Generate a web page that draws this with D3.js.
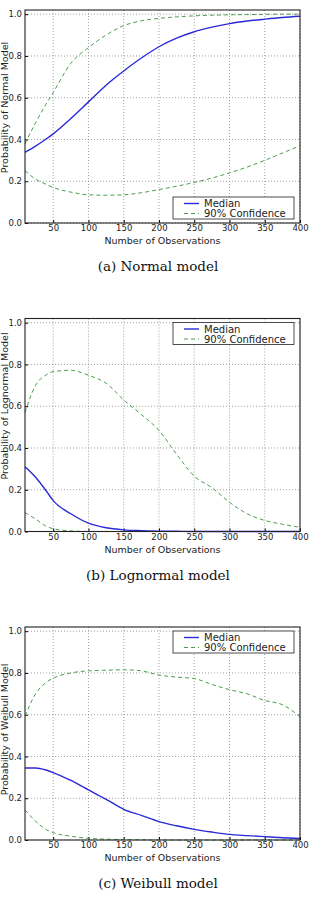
<!DOCTYPE html>
<meta charset="utf-8">
<style>
body { margin: 0; background: #fff; }
.tick text { font: 8.5px "DejaVu Sans", sans-serif; fill: #222; }
.grid line { stroke: #888; stroke-dasharray: 1,2; stroke-width: 0.8px; }
.median { fill: none; stroke: #2a2ad6; stroke-width: 1.4px; }
.conf { fill: none; stroke: #4c9e4c; stroke-width: 1px; stroke-dasharray: 4,3; }
.cap { font: 13.5px "DejaVu Serif", serif; fill: #111; }
.lab { font: 9.5px "DejaVu Sans", sans-serif; fill: #222; }
</style>
<body>
<svg width="315" height="901"></svg>
<script src="https://cdn.jsdelivr.net/npm/d3@7"></script>
<script>
var xs = [10, 25, 40, 50, 75, 100, 125, 150, 175, 200, 225, 250, 275, 300, 325, 350, 375, 400];

// (a) normal model
var normalMedian = [0.338, 0.368, 0.402, 0.427, 0.50, 0.58, 0.66, 0.728, 0.79, 0.844, 0.885, 0.916, 0.938, 0.955, 0.967, 0.976, 0.984, 0.99];
var normalUpper  = [0.38, 0.48, 0.57, 0.625, 0.765, 0.84, 0.90, 0.945, 0.968, 0.98, 0.987, 0.992, 0.995, 0.997, 0.998, 0.999, 1.0, 1.0];
var normalLower  = [0.25, 0.21, 0.185, 0.17, 0.148, 0.135, 0.133, 0.135, 0.145, 0.16, 0.176, 0.194, 0.215, 0.24, 0.268, 0.30, 0.335, 0.37];

// (b) lognormal model
var lognMedian = [0.31, 0.26, 0.195, 0.148, 0.085, 0.04, 0.018, 0.008, 0.004, 0.002, 0.001, 0, 0, 0, 0, 0, 0, 0];
var lognUpper  = [0.57, 0.70, 0.75, 0.766, 0.772, 0.748, 0.71, 0.63, 0.56, 0.484, 0.37, 0.265, 0.21, 0.14, 0.085, 0.053, 0.035, 0.02];
var lognLower  = [0.09, 0.06, 0.025, 0.013, 0.003, 0, 0, 0, 0, 0, 0, 0, 0, 0, 0, 0, 0, 0];

// (c) weibull model
var weibMedian = [0.345, 0.345, 0.335, 0.323, 0.285, 0.24, 0.195, 0.147, 0.118, 0.088, 0.068, 0.051, 0.038, 0.027, 0.021, 0.016, 0.011, 0.007];
var weibUpper  = [0.594, 0.70, 0.755, 0.775, 0.80, 0.81, 0.813, 0.815, 0.81, 0.79, 0.78, 0.773, 0.745, 0.72, 0.70, 0.668, 0.648, 0.59];
var weibLower  = [0.144, 0.09, 0.05, 0.035, 0.018, 0.008, 0.004, 0.002, 0.001, 0, 0, 0, 0, 0, 0, 0, 0, 0];

var xTicks = [50, 100, 150, 200, 250, 300, 350, 400];
var yTicks = [0, 0.2, 0.4, 0.6, 0.8, 1.0];

var panels = [
  {name: "Normal", caption: "(a)  Normal model", med: normalMedian, up: normalUpper, lo: normalLower, legendTop: false, labShift: -9},
  {name: "Lognormal", caption: "(b)  Lognormal model", med: lognMedian, up: lognUpper, lo: lognLower, legendTop: true, labShift: -19},
  {name: "Weibull", caption: "(c)  Weibull model", med: weibMedian, up: weibUpper, lo: weibLower, legendTop: true, labShift: -4}
];

var svg = d3.select("svg"),
    left = 25, width = 275, height = 213;

var x = d3.scaleLinear().domain([10, 400]).range([0, width]),
    y = d3.scaleLinear().domain([0, 1.02]).range([height, 0]);

var line = d3.line()
    .curve(d3.curveMonotoneX)
    .x(function(d) { return x(d[0]); })
    .y(function(d) { return y(d[1]); });

panels.forEach(function(p, i) {
  var g = svg.append("g").attr("transform", "translate(" + left + "," + (10 + i * 308.5) + ")");

  // grid
  var grid = g.append("g").attr("class", "grid");
  grid.selectAll(".gx").data(xTicks).enter().append("line")
      .attr("x1", function(d) { return x(d); }).attr("x2", function(d) { return x(d); })
      .attr("y1", 0).attr("y2", height);
  grid.selectAll(".gy").data(yTicks).enter().append("line")
      .attr("x1", 0).attr("x2", width)
      .attr("y1", function(d) { return y(d); }).attr("y2", function(d) { return y(d); });

  g.append("g")
      .attr("transform", "translate(0," + height + ")")
      .call(d3.axisBottom(x).tickValues(xTicks).tickSize(-3).tickPadding(2).tickFormat(d3.format("d")))
      .call(function(a) { a.select(".domain").remove(); });

  g.append("g")
      .call(d3.axisLeft(y).tickValues(yTicks).tickSize(-3).tickPadding(3).tickFormat(d3.format(".1f")))
      .call(function(a) { a.select(".domain").remove(); });

  g.selectAll(".tick line").attr("stroke", "#000");

  var toPts = function(arr) { return xs.map(function(v, k) { return [v, arr[k]]; }); };

  g.append("path").attr("class", "conf").attr("d", line(toPts(p.up)));
  g.append("path").attr("class", "conf").attr("d", line(toPts(p.lo)));
  g.append("path").attr("class", "median").attr("d", line(toPts(p.med)));

  // frame
  g.append("rect").attr("width", width).attr("height", height)
      .attr("fill", "none").attr("stroke", "#222").attr("stroke-width", 1.1);

  // legend
  var lg = g.append("g").attr("transform", "translate(148," + (p.legendTop ? 4 : height - 26) + ")");
  lg.append("rect").attr("width", 121).attr("height", 22)
      .attr("fill", "#fff").attr("stroke", "#222").attr("stroke-width", 0.8);
  lg.append("line").attr("class", "median").attr("x1", 11).attr("x2", 26).attr("y1", 6.5).attr("y2", 6.5);
  lg.append("line").attr("class", "conf").attr("x1", 11).attr("x2", 26).attr("y1", 16.5).attr("y2", 16.5);
  lg.append("text").attr("class", "lab").attr("x", 31).attr("y", 10).style("font-size", "10px").text("Median");
  lg.append("text").attr("class", "lab").attr("x", 31).attr("y", 20).style("font-size", "10px").text("90% Confidence");

  g.append("text").attr("class", "lab")
      .attr("text-anchor", "middle")
      .attr("x", 137.5).attr("y", height + 21)
      .text("Number of Observations");

  g.append("text").attr("class", "lab")
      .attr("text-anchor", "middle")
      .attr("transform", "translate(-17.5," + (height / 2 + p.labShift) + ") rotate(-90)")
      .text("Probability of " + p.name + " Model");

  g.append("text").attr("class", "cap")
      .attr("text-anchor", "middle")
      .attr("x", 133).attr("y", height + 48)
      .text(p.caption);
});
</script>
</body>
